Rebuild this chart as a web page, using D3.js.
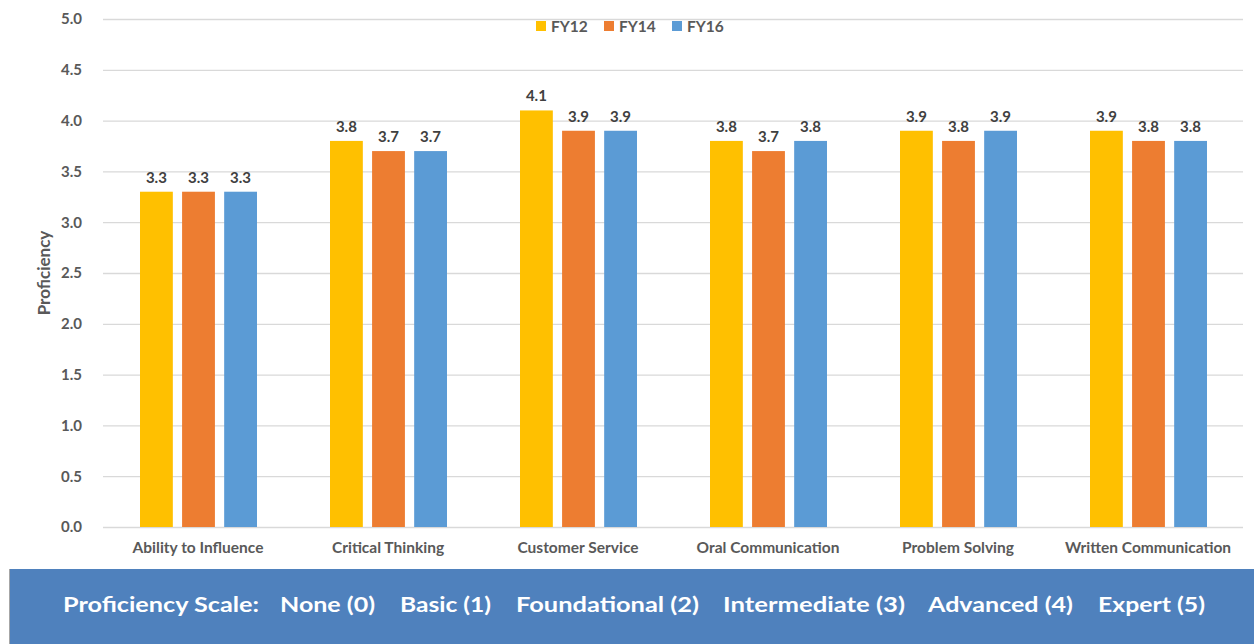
<!DOCTYPE html>
<html>
<head>
<meta charset="utf-8">
<script src="https://cdn.jsdelivr.net/npm/d3@7"></script>
<style>
  body { margin: 0; background: #fff; }
  text { font-family: Lato, "Open Sans", sans-serif; }
</style>
</head>
<body>
<div id="chart"></div>
<script>
// chart data
var categories = ["Ability to Influence", "Critical Thinking", "Customer Service",
    "Oral Communication", "Problem Solving", "Written Communication"];
var seriesNames = ["FY12", "FY14", "FY16"];
var fy12 = [3.3, 3.8, 4.1, 3.8, 3.9, 3.9];
var fy14 = [3.3, 3.7, 3.9, 3.7, 3.8, 3.8];
var fy16 = [3.3, 3.7, 3.9, 3.8, 3.9, 3.8];
var yTicks = [0, 0.5, 1, 1.5, 2, 2.5, 3, 3.5, 4, 4.5, 5];
var scaleLabels = ["Proficiency Scale:", "None (0)", "Basic (1)", "Foundational (2)",
    "Intermediate (3)", "Advanced (4)", "Expert (5)"];
var colors = ["#FFC000", "#ED7D31", "#5B9BD5"];

var width = 1254, height = 644;
var margin = { top: 19, right: 11, bottom: 117, left: 103 };
var innerW = width - margin.left - margin.right,
    innerH = height - margin.top - margin.bottom;

var svg = d3.select("#chart").append("svg")
    .attr("width", width)
    .attr("height", height);

var g = svg.append("g")
    .attr("transform", "translate(" + margin.left + "," + margin.top + ")");

var x0 = d3.scaleBand().domain(categories).range([0, innerW]).paddingInner(0).paddingOuter(0);
var x1 = d3.scaleBand().domain(seriesNames).range([37, x0.bandwidth() - 36]).paddingInner(0.22).paddingOuter(0);
var y = d3.scaleLinear().domain([0, 5]).range([innerH, 0]);

// gridlines
g.append("g")
    .selectAll("line")
    .data(yTicks)
    .enter()
    .append("line")
    .attr("x1", 0)
    .attr("x2", innerW)
    .attr("y1", function (d) { return y(d) + 0.5; })
    .attr("y2", function (d) { return y(d) + 0.5; })
    .attr("stroke", "#D9D9D9")
    .attr("stroke-width", 1.3);

// y axis
var yAxis = g.append("g")
    .attr("transform", "translate(-18,0)")
    .call(d3.axisLeft(y).tickValues(yTicks).tickFormat(d3.format(".1f")).tickSize(0));
yAxis.select(".domain").remove();
yAxis.selectAll("text")
    .attr("fill", "#595959")
    .attr("font-size", 15)
    .attr("font-weight", "bold")
    .attr("font-family", "Lato, sans-serif");

// x axis labels
var xAxis = g.append("g")
    .attr("transform", "translate(0," + innerH + ")")
    .call(d3.axisBottom(x0).tickSize(0).tickPadding(15));
xAxis.select(".domain").remove();
xAxis.selectAll("text")
    .attr("fill", "#595959")
    .attr("font-size", 15.5)
    .attr("font-weight", "bold")
    .attr("font-family", "Lato, sans-serif");

// axis title
svg.append("text")
    .attr("transform", "translate(50," + (margin.top + innerH / 2) + ") rotate(-90)")
    .attr("text-anchor", "middle")
    .attr("fill", "#595959")
    .attr("font-size", 17)
    .attr("font-weight", "bold")
    .text("Proficiency");

// bars
var rows = categories.map(function (c, i) {
    return { cat: c, values: [fy12[i], fy14[i], fy16[i]] };
});

var groups = g.selectAll(".grp")
    .data(rows)
    .enter()
    .append("g")
    .attr("transform", function (d) { return "translate(" + x0(d.cat) + ",0)"; });

groups.selectAll("rect")
    .data(function (d) { return d.values.map(function (v, j) { return { s: seriesNames[j], v: v, j: j }; }); })
    .enter()
    .append("rect")
    .attr("x", function (d) { return x1(d.s); })
    .attr("y", function (d) { return y(d.v); })
    .attr("width", x1.bandwidth())
    .attr("height", function (d) { return innerH - y(d.v); })
    .attr("fill", function (d) { return colors[d.j]; });

groups.selectAll(".lbl")
    .data(function (d) { return d.values.map(function (v, j) { return { s: seriesNames[j], v: v }; }); })
    .enter()
    .append("text")
    .attr("x", function (d) { return x1(d.s) + x1.bandwidth() / 2; })
    .attr("y", function (d) { return y(d.v) - 9; })
    .attr("text-anchor", "middle")
    .attr("fill", "#404040")
    .attr("font-size", 15)
    .attr("font-weight", "bold")
    .text(function (d) { return d3.format(".1f")(d.v); });

// legend
var legendX = [536, 604, 672];
var legend = svg.append("g").attr("transform", "translate(0,21)");
seriesNames.forEach(function (s, i) {
    legend.append("rect")
        .attr("x", legendX[i])
        .attr("y", 0)
        .attr("width", 10)
        .attr("height", 10)
        .attr("fill", colors[i]);
    legend.append("text")
        .attr("x", legendX[i] + 15)
        .attr("y", 10.5)
        .attr("fill", "#595959")
        .attr("font-size", 15.5)
        .attr("font-weight", "bold")
        .text(s);
});

// proficiency scale banner
svg.append("rect")
    .attr("x", 10)
    .attr("y", 569)
    .attr("width", width - 10)
    .attr("height", height - 569)
    .attr("fill", "#4F81BD");
svg.append("line")
    .attr("x1", 9.5).attr("x2", 9.5)
    .attr("y1", 569).attr("y2", height)
    .attr("stroke", "#A6A6A6")
    .attr("stroke-width", 1);

var scaleX = [63, 280, 400, 516, 723, 928, 1098];
var scaleW = [196, 95, 91, 183, 182, 145, 107];
svg.append("g")
    .selectAll("text")
    .data(scaleLabels)
    .enter()
    .append("text")
    .attr("x", function (d, i) { return scaleX[i]; })
    .attr("y", 612)
    .attr("fill", "#fff")
    .attr("font-size", 21)
    .attr("font-weight", "bold")
    .attr("textLength", function (d, i) { return scaleW[i]; })
    .attr("lengthAdjust", "spacingAndGlyphs")
    .text(function (d) { return d; });
</script>
</body>
</html>
